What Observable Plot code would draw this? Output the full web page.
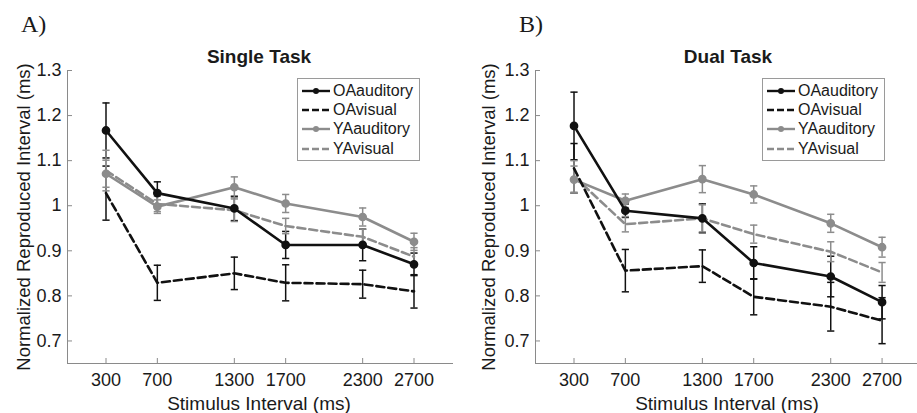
<!DOCTYPE html>
<html>
<head>
<meta charset="utf-8">
<script src="https://cdn.jsdelivr.net/npm/d3@7"></script>
<script src="https://cdn.jsdelivr.net/npm/@observablehq/plot@0.6"></script>
<style>
  html, body { margin: 0; padding: 0; background: #fff; }
  #root { position: relative; width: 917px; height: 413px; overflow: hidden; font-family: "Liberation Sans", Arial, sans-serif; color: #1a1a1a; }
  .panel { position: absolute; top: 0; }
  .lab { position: absolute; white-space: nowrap; line-height: 1; }
  .letter { font-family: "Liberation Serif", "Times New Roman", serif; font-size: 24px; }
  .title { font-weight: bold; font-size: 19px; transform: translateX(-50%); }
  .ylab { font-size: 18.5px; transform: translate(-50%, -50%) rotate(-90deg); }
  .xlab { font-size: 19px; transform: translateX(-50%); }
  .legend { position: absolute; border: 1px solid #9a9a9a; background: #fff; padding: 2px 6px 2px 3px; font-size: 16px; }
  .legend .row { display: flex; align-items: center; height: 19.3px; }
  .legend svg { margin-right: 2px; }
</style>
</head>
<body>
<div id="root"></div>
<script>
const intervals = [300, 700, 1300, 1700, 2300, 2700];
const xTicks = [300, 700, 1300, 1700, 2300, 2700];
const yTicks = [0.7, 0.8, 0.9, 1.0, 1.1, 1.2, 1.3];
const yTickLabels = ["0.7", "0.8", "0.9", "1", "1.1", "1.2", "1.3"];
const seriesNames = ["OAauditory", "OAvisual", "YAauditory", "YAvisual"];
const panelTitles = ["Single Task", "Dual Task"];
const panelLetters = ["A)", "B)"];

// Single task
const singleOAauditory = [1.167, 1.028, 0.994, 0.913, 0.913, 0.870];
const singleOAauditoryErr = [0.061, 0.025, 0.027, 0.030, 0.035, 0.025];
const singleOAvisual = [1.028, 0.829, 0.850, 0.829, 0.826, 0.810];
const singleOAvisualErr = [0.060, 0.039, 0.036, 0.040, 0.031, 0.037];
const singleYAauditory = [1.071, 0.998, 1.041, 1.005, 0.975, 0.920];
const singleYAauditoryErr = [0.030, 0.015, 0.023, 0.020, 0.020, 0.019];
const singleYAvisual = [1.078, 1.004, 0.990, 0.955, 0.931, 0.887];
const singleYAvisualErr = [0.045, 0.017, 0.025, 0.017, 0.017, 0.020];

// Dual task
const dualOAauditory = [1.177, 0.989, 0.972, 0.873, 0.843, 0.786];
const dualOAauditoryErr = [0.075, 0.015, 0.032, 0.036, 0.045, 0.037];
const dualOAvisual = [1.083, 0.856, 0.866, 0.798, 0.776, 0.745];
const dualOAvisualErr = [0.055, 0.047, 0.036, 0.040, 0.054, 0.051];
const dualYAauditory = [1.058, 1.011, 1.059, 1.025, 0.961, 0.908];
const dualYAauditoryErr = [0.030, 0.015, 0.030, 0.019, 0.020, 0.022];
const dualYAvisual = [1.065, 0.959, 0.972, 0.937, 0.898, 0.852];
const dualYAvisualErr = [0.035, 0.017, 0.030, 0.020, 0.022, 0.022];

const BLACK = "#111111", GRAY = "#8c8c8c";
const styles = {
  OAauditory: {color: BLACK, dash: null, marker: true},
  OAvisual: {color: BLACK, dash: "8,4", marker: false},
  YAauditory: {color: GRAY, dash: null, marker: true},
  YAvisual: {color: GRAY, dash: "8,4", marker: false}
};

const panelData = [
  [[singleOAauditory, singleOAauditoryErr], [singleOAvisual, singleOAvisualErr], [singleYAauditory, singleYAauditoryErr], [singleYAvisual, singleYAvisualErr]],
  [[dualOAauditory, dualOAauditoryErr], [dualOAvisual, dualOAvisualErr], [dualYAauditory, dualYAauditoryErr], [dualYAvisual, dualYAvisualErr]]
];

function table(p) {
  const rows = [];
  panelData[p].forEach(([vals, errs], s) => {
    intervals.forEach((x, i) => rows.push({series: seriesNames[s], x, y: vals[i], lo: vals[i] - errs[i], hi: vals[i] + errs[i]}));
  });
  return rows;
}

const cap = {draw(context, size) { const w = Math.sqrt(size / Math.PI); context.moveTo(-w, 0); context.lineTo(w, 0); }};

const layout = [
  {left: 0, width: 458, marginLeft: 67, marginRight: 6, xmax: 3000},
  {left: 458, width: 459, marginLeft: 77, marginRight: 0, xmax: 2976}
];

const root = document.getElementById("root");

layout.forEach((L, p) => {
  const data = table(p);
  const marks = [];
  seriesNames.forEach(name => {
    const st = styles[name];
    const d = data.filter(r => r.series === name);
    marks.push(Plot.ruleX(d, {x: "x", y1: "lo", y2: "hi", stroke: st.color, strokeWidth: 1.5}));
    marks.push(Plot.dot(d, {x: "x", y: "lo", symbol: cap, r: 3.6, stroke: st.color, strokeWidth: 1.5, fill: "none"}));
    marks.push(Plot.dot(d, {x: "x", y: "hi", symbol: cap, r: 3.6, stroke: st.color, strokeWidth: 1.5, fill: "none"}));
  });
  ["YAvisual", "YAauditory", "OAvisual", "OAauditory"].forEach(name => {
    const st = styles[name];
    const d = data.filter(r => r.series === name);
    marks.push(Plot.line(d, {x: "x", y: "y", stroke: st.color, strokeWidth: 2.6, strokeDasharray: st.dash}));
    if (st.marker) marks.push(Plot.dot(d, {x: "x", y: "y", r: 3.6, fill: st.color, stroke: st.color}));
  });
  marks.push(Plot.frame({anchor: "left", stroke: "#8a8a8a"}));
  marks.push(Plot.frame({anchor: "bottom", stroke: "#8a8a8a"}));
  marks.push(Plot.axisX({ticks: xTicks, tickSize: -5, tickFormat: () => "", stroke: "#8a8a8a"}));
  marks.push(Plot.axisX({ticks: xTicks, tickSize: 0, tickPadding: 10, fontSize: 18, fill: "#1a1a1a", tickFormat: d => String(d)}));
  marks.push(Plot.axisY({ticks: yTicks, tickSize: -5, tickFormat: () => "", stroke: "#8a8a8a"}));
  marks.push(Plot.axisY({ticks: yTicks, tickSize: 0, tickPadding: 6, fontSize: 18, fill: "#1a1a1a", tickFormat: d => yTickLabels[yTicks.findIndex(t => Math.abs(t - d) < 1e-9)]}));

  const svg = Plot.plot({
    width: L.width, height: 413,
    marginTop: 70, marginBottom: 50, marginLeft: L.marginLeft, marginRight: L.marginRight,
    style: {fontFamily: "'Liberation Sans', Arial, sans-serif", fontSize: "18px", background: "transparent", overflow: "visible"},
    x: {domain: [0, L.xmax], label: null},
    y: {domain: [0.65, 1.3], label: null},
    marks
  });
  const holder = document.createElement("div");
  holder.className = "panel";
  holder.style.left = L.left + "px";
  holder.style.width = L.width + "px";
  holder.appendChild(svg);
  root.appendChild(holder);
});

function addLabel(cls, text, css) {
  const el = document.createElement("div");
  el.className = "lab " + cls;
  el.textContent = text;
  Object.assign(el.style, css);
  root.appendChild(el);
  return el;
}

addLabel("letter", panelLetters[0], {left: "21px", top: "12px"});
addLabel("letter", panelLetters[1], {left: "519px", top: "12px"});
addLabel("title", panelTitles[0], {left: "259px", top: "47px"});
addLabel("title", panelTitles[1], {left: "728px", top: "47px"});
addLabel("ylab", "Normalized Reproduced Interval (ms)", {left: "24px", top: "217px"});
addLabel("ylab", "Normalized Reproduced Interval (ms)", {left: "489px", top: "217px"});
addLabel("xlab", "Stimulus Interval (ms)", {left: "259px", top: "394px"});
addLabel("xlab", "Stimulus Interval (ms)", {left: "727px", top: "394px"});

function addLegend(left, top) {
  const box = document.createElement("div");
  box.className = "legend";
  box.style.left = left + "px";
  box.style.top = top + "px";
  seriesNames.forEach(name => {
    const st = styles[name];
    const row = document.createElement("div");
    row.className = "row";
    const ns = "http://www.w3.org/2000/svg";
    const s = document.createElementNS(ns, "svg");
    s.setAttribute("width", 30); s.setAttribute("height", 12);
    const ln = document.createElementNS(ns, "line");
    ln.setAttribute("x1", 1); ln.setAttribute("x2", 29); ln.setAttribute("y1", 6); ln.setAttribute("y2", 6);
    ln.setAttribute("stroke", st.color); ln.setAttribute("stroke-width", 2.4);
    if (st.dash) ln.setAttribute("stroke-dasharray", "7,3");
    s.appendChild(ln);
    if (st.marker) {
      const c = document.createElementNS(ns, "circle");
      c.setAttribute("cx", 15); c.setAttribute("cy", 6); c.setAttribute("r", 3); c.setAttribute("fill", st.color);
      s.appendChild(c);
    }
    row.appendChild(s);
    const t = document.createElement("span");
    t.textContent = name;
    row.appendChild(t);
    box.appendChild(row);
  });
  root.appendChild(box);
}
addLegend(297, 78);
addLegend(762, 78);
</script>
</body>
</html>
